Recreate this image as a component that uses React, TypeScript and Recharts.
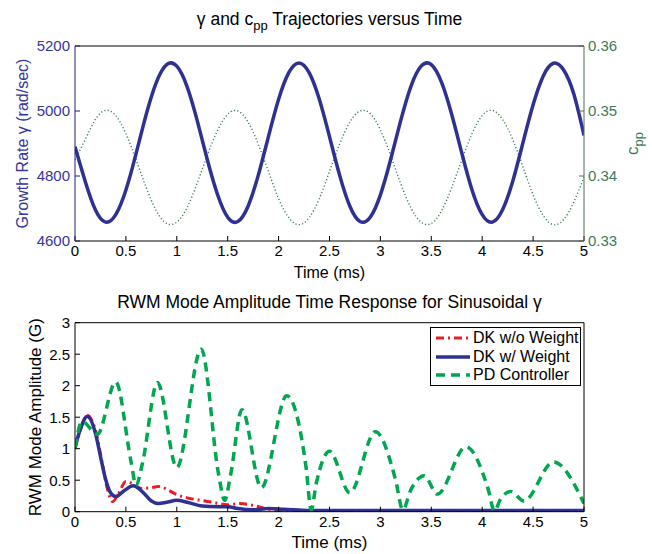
import { Legend, Line, LineChart, XAxis, YAxis } from "recharts";

const FONT = '"Liberation Sans", Arial, Helvetica, sans-serif';

const timeTicks = [0, 0.5, 1, 1.5, 2, 2.5, 3, 3.5, 4, 4.5, 5];
const gammaTicks = [4600, 4800, 5000, 5200];
const cppTicks = [0.33, 0.34, 0.35, 0.36];
const ampTicks = [0, 0.5, 1, 1.5, 2, 2.5, 3];

// top panel: gamma and c_pp sampled every 0.1 ms
const trajTime = [
    0, 0.1, 0.2, 0.3, 0.4, 0.5, 0.6, 0.7, 0.8, 0.9, 1, 1.1, 1.2, 1.3, 1.4, 1.5, 1.6, 1.7, 1.8, 1.9, 2, 2.1, 2.2, 2.3, 2.4,
    2.5, 2.6, 2.7, 2.8, 2.9, 3, 3.1, 3.2, 3.3, 3.4, 3.5, 3.6, 3.7, 3.8, 3.9, 4, 4.1, 4.2, 4.3, 4.4, 4.5, 4.6, 4.7, 4.8,
    4.9, 5,
];
const gamma = [
    4890, 4784, 4696, 4658, 4681, 4757, 4869, 4990, 5089, 5143, 5138, 5076, 4971, 4850, 4743, 4673, 4660, 4707, 4802,
    4921, 5036, 5118, 5148, 5118, 5036, 4921, 4802, 4707, 4660, 4673, 4742, 4850, 4971, 5076, 5138, 5143, 5089, 4990,
    4870, 4757, 4681, 4658, 4696, 4784, 4902, 5019, 5108, 5147, 5126, 5052, 4925,
];
const cpp = [
    0.3425, 0.3456, 0.3487, 0.3501, 0.3493, 0.3465, 0.3425, 0.3382, 0.3346, 0.3327, 0.3329, 0.3351, 0.3389, 0.3432,
    0.347, 0.3495, 0.35, 0.3483, 0.3449, 0.3407, 0.3365, 0.3336, 0.3325, 0.3336, 0.3365, 0.3407, 0.3449, 0.3483, 0.35,
    0.3496, 0.3471, 0.3432, 0.3388, 0.3351, 0.3329, 0.3327, 0.3346, 0.3382, 0.3425, 0.3465, 0.3493, 0.3501, 0.3487,
    0.3456, 0.3414, 0.3371, 0.3339, 0.3325, 0.3333, 0.336, 0.3398,
];

// bottom panel: RWM mode amplitude
const noWeightTime = [
    0, 0.05, 0.12, 0.2, 0.27, 0.32, 0.37, 0.43, 0.5, 0.57, 0.65, 0.74, 0.82, 0.92, 1, 1.1, 1.2, 1.35, 1.5, 1.62, 1.75,
    1.9, 2.05, 2.3, 2.6, 3, 3.5, 4, 4.5, 5,
];
const noWeightAmp = [
    1.0, 1.28, 1.53, 1.3, 0.75, 0.35, 0.16, 0.3, 0.48, 0.44, 0.37, 0.38, 0.4, 0.34, 0.27, 0.22, 0.19, 0.15, 0.11, 0.13,
    0.1, 0.04, 0.01, 0.02, 0.01, 0.01, 0.01, 0.01, 0.01, 0.01,
];
const weightTime = [
    0, 0.05, 0.12, 0.2, 0.25, 0.3, 0.35, 0.4, 0.48, 0.57, 0.66, 0.75, 0.82, 0.9, 1, 1.1, 1.25, 1.4, 1.5, 1.6, 1.75,
    1.9, 2.05, 2.3, 3, 4, 5,
];
const weightAmp = [
    1.02, 1.3, 1.51, 1.25, 0.88, 0.52, 0.3, 0.24, 0.33, 0.41, 0.32, 0.17, 0.13, 0.15, 0.18, 0.15, 0.09, 0.08, 0.08,
    0.05, 0.03, 0.05, 0.04, 0.02, 0.02, 0.02, 0.02,
];
const pdTime = [
    0, 0.07, 0.22, 0.4, 0.55, 0.6, 0.66, 0.81, 1, 1.24, 1.41, 1.47, 1.53, 1.64, 1.83, 2.08, 2.27, 2.32, 2.37, 2.5, 2.7,
    2.95, 3.15, 3.22, 3.3, 3.43, 3.56, 3.84, 4.06, 4.12, 4.18, 4.28, 4.41, 4.7, 5,
];
const pdAmp = [
    1.02, 1.43, 1.23, 2.06, 0.8, 0.42, 0.75, 2.05, 0.7, 2.58, 0.6, 0.18, 0.6, 1.62, 0.38, 1.84, 0.7, 0.03, 0.45, 0.96,
    0.3, 1.27, 0.5, 0.03, 0.35, 0.57, 0.28, 1.03, 0.35, 0.01, 0.2, 0.32, 0.17, 0.79, 0.13,
];

const trajData = trajTime.map((t, i) => ({ t, gamma: gamma[i], cpp: cpp[i] }));
const noWeightData = noWeightTime.map((t, i) => ({ t, noWeight: noWeightAmp[i] }));
const weightData = weightTime.map((t, i) => ({ t, weight: weightAmp[i] }));
const pdData = pdTime.map((t, i) => ({ t, pd: pdAmp[i] }));

const seriesStyle: Record<string, { color: string; width: number; dash?: string; name: string }> = {
    noWeight: { color: "#ec1c24", width: 3, dash: "8 4 2 4", name: "DK w/o Weight" },
    weight: { color: "#2e3192", width: 3.5, name: "DK w/ Weight" },
    pd: { color: "#00a650", width: 3.5, dash: "9 6", name: "PD Controller" },
};
const legendOrder = ["noWeight", "weight", "pd"];

const GAMMA_COLOR = "#35359a";
const CPP_COLOR = "#3f7a55";

// rotated axis title centred on the axis box
const SideTitle = (props: any) => {
    const vb = props.viewBox;
    if (!vb) return null;
    const cx = vb.x + props.dx;
    const cy = vb.y + vb.height / 2;
    return (
        <text
            x={cx}
            y={cy}
            transform={`rotate(-90 ${cx} ${cy})`}
            textAnchor="middle"
            dominantBaseline="central"
            fill={props.fill}
            fontSize={props.fontSize}
        >
            {props.children}
        </text>
    );
};

const renderLegend = (props: any) => {
    const entries = [...(props.payload || [])].sort(
        (a: any, b: any) => legendOrder.indexOf(a.dataKey) - legendOrder.indexOf(b.dataKey)
    );
    return (
        <div
            style={{
                border: "1px solid #000",
                background: "#fff",
                width: 151,
                height: 59,
                boxSizing: "border-box",
                padding: "1px 0 0 5px",
                fontSize: 16,
                color: "#000",
                whiteSpace: "nowrap",
            }}
        >
            {entries.map((entry: any) => {
                const s = seriesStyle[entry.dataKey];
                return (
                    <div key={entry.dataKey} style={{ display: "flex", alignItems: "center", height: 18.5 }}>
                        <svg width={34} height={8} style={{ flexShrink: 0 }}>
                            <line x1={0} x2={34} y1={4} y2={4} stroke={s.color} strokeWidth={s.width} strokeDasharray={s.dash} />
                        </svg>
                        <span style={{ marginLeft: 3 }}>{s.name}</span>
                    </div>
                );
            })}
        </div>
    );
};

export default function App() {
    return (
        <div style={{ position: "absolute", left: 0, top: 0, width: 652, height: 554, background: "#fff", fontFamily: FONT }}>
            <div style={{ position: "absolute", left: 75, top: 8, width: 509, textAlign: "center", fontSize: 17.5, lineHeight: "22px" }}>
                γ and c<span style={{ fontSize: 13, position: "relative", top: 5 }}>pp</span> Trajectories versus Time
            </div>
            <div style={{ position: "absolute", left: 0, top: 0 }}>
                <LineChart width={652} height={285} data={trajData} margin={{ top: 45, right: 0, bottom: 0, left: 0 }}>
                    <XAxis
                        xAxisId="b"
                        dataKey="t"
                        type="number"
                        domain={[0, 5]}
                        ticks={timeTicks}
                        interval={0}
                        allowDataOverflow
                        height={44}
                        tickSize={-5}
                        tickMargin={9}
                        stroke="#000"
                        tick={{ fill: "#000", fontSize: 15 }}
                        label={{ value: "Time (ms)", position: "insideBottom", offset: 7, fill: "#000", fontSize: 16 }}
                    />
                    <XAxis
                        xAxisId="top"
                        orientation="top"
                        dataKey="t"
                        type="number"
                        domain={[0, 5]}
                        ticks={timeTicks}
                        interval={0}
                        allowDataOverflow
                        height={1}
                        tickSize={-5}
                        tick={false}
                        stroke="#000"
                    />
                    <YAxis
                        yAxisId="g"
                        domain={[4600, 5200]}
                        ticks={gammaTicks}
                        interval={0}
                        allowDataOverflow
                        width={75}
                        tickSize={-5}
                        tickMargin={10}
                        stroke="#22226a"
                        tick={{ fill: GAMMA_COLOR, fontSize: 15 }}
                        label={
                            <SideTitle dx={22} fill={GAMMA_COLOR} fontSize={16}>
                                Growth Rate γ (rad/sec)
                            </SideTitle>
                        }
                    />
                    <YAxis
                        yAxisId="c"
                        orientation="right"
                        domain={[0.33, 0.36]}
                        ticks={cppTicks}
                        interval={0}
                        allowDataOverflow
                        width={68}
                        tickSize={-5}
                        tickMargin={9}
                        stroke="#4f6f5a"
                        tick={{ fill: CPP_COLOR, fontSize: 15 }}
                        label={
                            <SideTitle dx={48} fill={CPP_COLOR} fontSize={17}>
                                <tspan>c</tspan>
                                <tspan dy={6} fontSize={13}>pp</tspan>
                            </SideTitle>
                        }
                    />
                    <Line
                        xAxisId="b"
                        yAxisId="c"
                        dataKey="cpp"
                        type="natural"
                        stroke="#3f8050"
                        strokeWidth={1.4}
                        strokeDasharray="1.2 2.2"
                        dot={false}
                        activeDot={false}
                        isAnimationActive={false}
                    />
                    <Line
                        xAxisId="b"
                        yAxisId="g"
                        dataKey="gamma"
                        type="natural"
                        stroke="#2e3192"
                        strokeWidth={3.5}
                        dot={false}
                        activeDot={false}
                        isAnimationActive={false}
                    />
                </LineChart>
            </div>

            <div style={{ position: "absolute", left: 75, top: 291, width: 509, textAlign: "center", fontSize: 17.5, lineHeight: "22px" }}>
                RWM Mode Amplitude Time Response for Sinusoidal γ
            </div>
            <div style={{ position: "absolute", left: 0, top: 285 }}>
                <LineChart width={652} height={269} margin={{ top: 36.7, right: 0, bottom: 0, left: 0 }}>
                    <XAxis
                        xAxisId="b"
                        dataKey="t"
                        type="number"
                        domain={[0, 5]}
                        ticks={timeTicks}
                        interval={0}
                        allowDataOverflow
                        height={42.3}
                        tickSize={-5}
                        tickMargin={10}
                        stroke="#000"
                        tick={{ fill: "#000", fontSize: 15 }}
                        label={{ value: "Time (ms)", position: "insideBottom", offset: 6, fill: "#000", fontSize: 17 }}
                    />
                    <XAxis
                        xAxisId="top"
                        orientation="top"
                        dataKey="t"
                        type="number"
                        domain={[0, 5]}
                        ticks={timeTicks}
                        interval={0}
                        allowDataOverflow
                        height={1}
                        tickSize={-5}
                        tick={false}
                        stroke="#000"
                    />
                    <YAxis
                        yAxisId="a"
                        domain={[0, 3]}
                        ticks={ampTicks}
                        interval={0}
                        allowDataOverflow
                        width={75}
                        tickSize={-5}
                        tickMargin={10}
                        stroke="#000"
                        tick={{ fill: "#000", fontSize: 15 }}
                        label={
                            <SideTitle dx={36} fill="#000" fontSize={17}>
                                RWM Mode Amplitude (G)
                            </SideTitle>
                        }
                    />
                    <YAxis
                        yAxisId="r"
                        orientation="right"
                        domain={[0, 3]}
                        ticks={ampTicks}
                        interval={0}
                        allowDataOverflow
                        width={68}
                        tickSize={-5}
                        tick={false}
                        stroke="#000"
                    />
                    <Legend
                        layout="horizontal"
                        verticalAlign="middle"
                        align="center"
                        width={151}
                        height={59}
                        wrapperStyle={{ left: 430, top: 42, width: 151, height: 59 }}
                        content={renderLegend}
                    />
                    <Line
                        xAxisId="b"
                        yAxisId="a"
                        data={noWeightData}
                        dataKey="noWeight"
                        name={seriesStyle.noWeight.name}
                        type="monotone"
                        stroke={seriesStyle.noWeight.color}
                        strokeWidth={seriesStyle.noWeight.width}
                        strokeDasharray={seriesStyle.noWeight.dash}
                        dot={false}
                        activeDot={false}
                        isAnimationActive={false}
                    />
                    <Line
                        xAxisId="b"
                        yAxisId="a"
                        data={weightData}
                        dataKey="weight"
                        name={seriesStyle.weight.name}
                        type="monotone"
                        stroke={seriesStyle.weight.color}
                        strokeWidth={seriesStyle.weight.width}
                        dot={false}
                        activeDot={false}
                        isAnimationActive={false}
                    />
                    <Line
                        xAxisId="b"
                        yAxisId="a"
                        data={pdData}
                        dataKey="pd"
                        name={seriesStyle.pd.name}
                        type="monotone"
                        stroke={seriesStyle.pd.color}
                        strokeWidth={seriesStyle.pd.width}
                        strokeDasharray={seriesStyle.pd.dash}
                        dot={false}
                        activeDot={false}
                        isAnimationActive={false}
                    />
                </LineChart>
            </div>
        </div>
    );
}
